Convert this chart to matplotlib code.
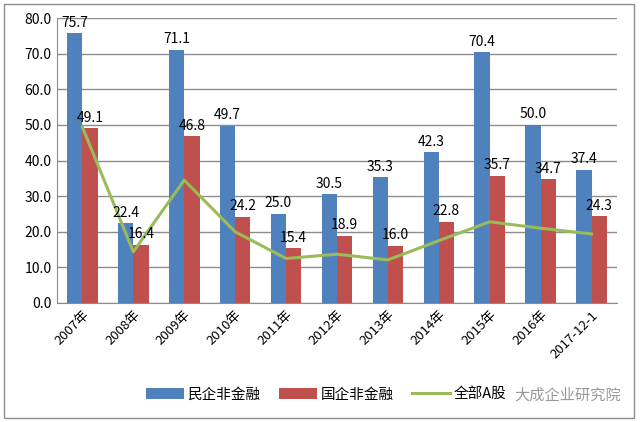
import numpy as np
import matplotlib.pyplot as plt
from matplotlib.patches import Rectangle

plt.rcParams['font.family'] = ['Noto Sans CJK SC', 'DejaVu Sans']

categories = ['2007年', '2008年', '2009年', '2010年', '2011年', '2012年',
              '2013年', '2014年', '2015年', '2016年', '2017-12-1']
private_nonfin = [75.7, 22.4, 71.1, 49.7, 25.0, 30.5, 35.3, 42.3, 70.4, 50.0, 37.4]
state_nonfin = [49.1, 16.4, 46.8, 24.2, 15.4, 18.9, 16.0, 22.8, 35.7, 34.7, 24.3]
all_a_shares = [49.4, 14.4, 34.5, 20.0, 12.5, 13.7, 12.1, 17.5, 22.8, 21.0, 19.4]

blue = '#4F81BD'
red = '#C0504D'
green = '#9BBB59'

fig = plt.figure(figsize=(6.4, 4.22), dpi=100)
ax = fig.add_axes([0.089, 0.282, 0.875, 0.675])

x = np.arange(len(categories))
w = 0.3
b1 = ax.bar(x - w/2, private_nonfin, w, color=blue, label='民企非金融', zorder=2)
b2 = ax.bar(x + w/2, state_nonfin, w, color=red, label='国企非金融', zorder=2)
ax.plot(x, all_a_shares, color=green, lw=2.2, label='全部A股', zorder=3)

for xi, v in zip(x, private_nonfin):
    ax.text(xi - w/2, v + 1.0, f'{v:.1f}', ha='center', va='bottom', fontsize=10, zorder=4)
for xi, v in zip(x, state_nonfin):
    ax.text(xi + w/2, v + 1.0, f'{v:.1f}', ha='center', va='bottom', fontsize=10, zorder=4)

ax.set_xlim(-0.5, len(categories) - 0.5)
ax.set_ylim(0, 80)
ax.set_yticks(np.arange(0, 81, 10))
ax.set_yticklabels([f'{t:.1f}' for t in np.arange(0, 81, 10)], fontsize=10)
ax.yaxis.grid(True, color='#8c8c8c', lw=1, zorder=0)
ax.set_xticks(x)
ax.set_xticklabels(categories, rotation=45, ha='right', rotation_mode='anchor', fontsize=9.5)
ax.tick_params(axis='both', length=0, pad=4)
for s in ['top', 'right']:
    ax.spines[s].set_visible(False)
ax.spines['left'].set_color('#8c8c8c')
ax.spines['bottom'].set_color('#8c8c8c')

fig.legend(handles=[b1, b2, ax.lines[0]], loc='center', bbox_to_anchor=(0.51, 0.065),
           ncol=3, frameon=False, fontsize=10.5, handlelength=2.6, columnspacing=1.2,
           handletextpad=0.3)
fig.text(0.97, 0.065, '大成企业研究院', color='#999999', fontsize=11, ha='right', va='center')

fig.patches.append(Rectangle((0.006, 0.01), 0.985, 0.98, transform=fig.transFigure,
                             fill=False, edgecolor='#8c8c8c', lw=1))

plt.savefig('out.png', dpi=100)
